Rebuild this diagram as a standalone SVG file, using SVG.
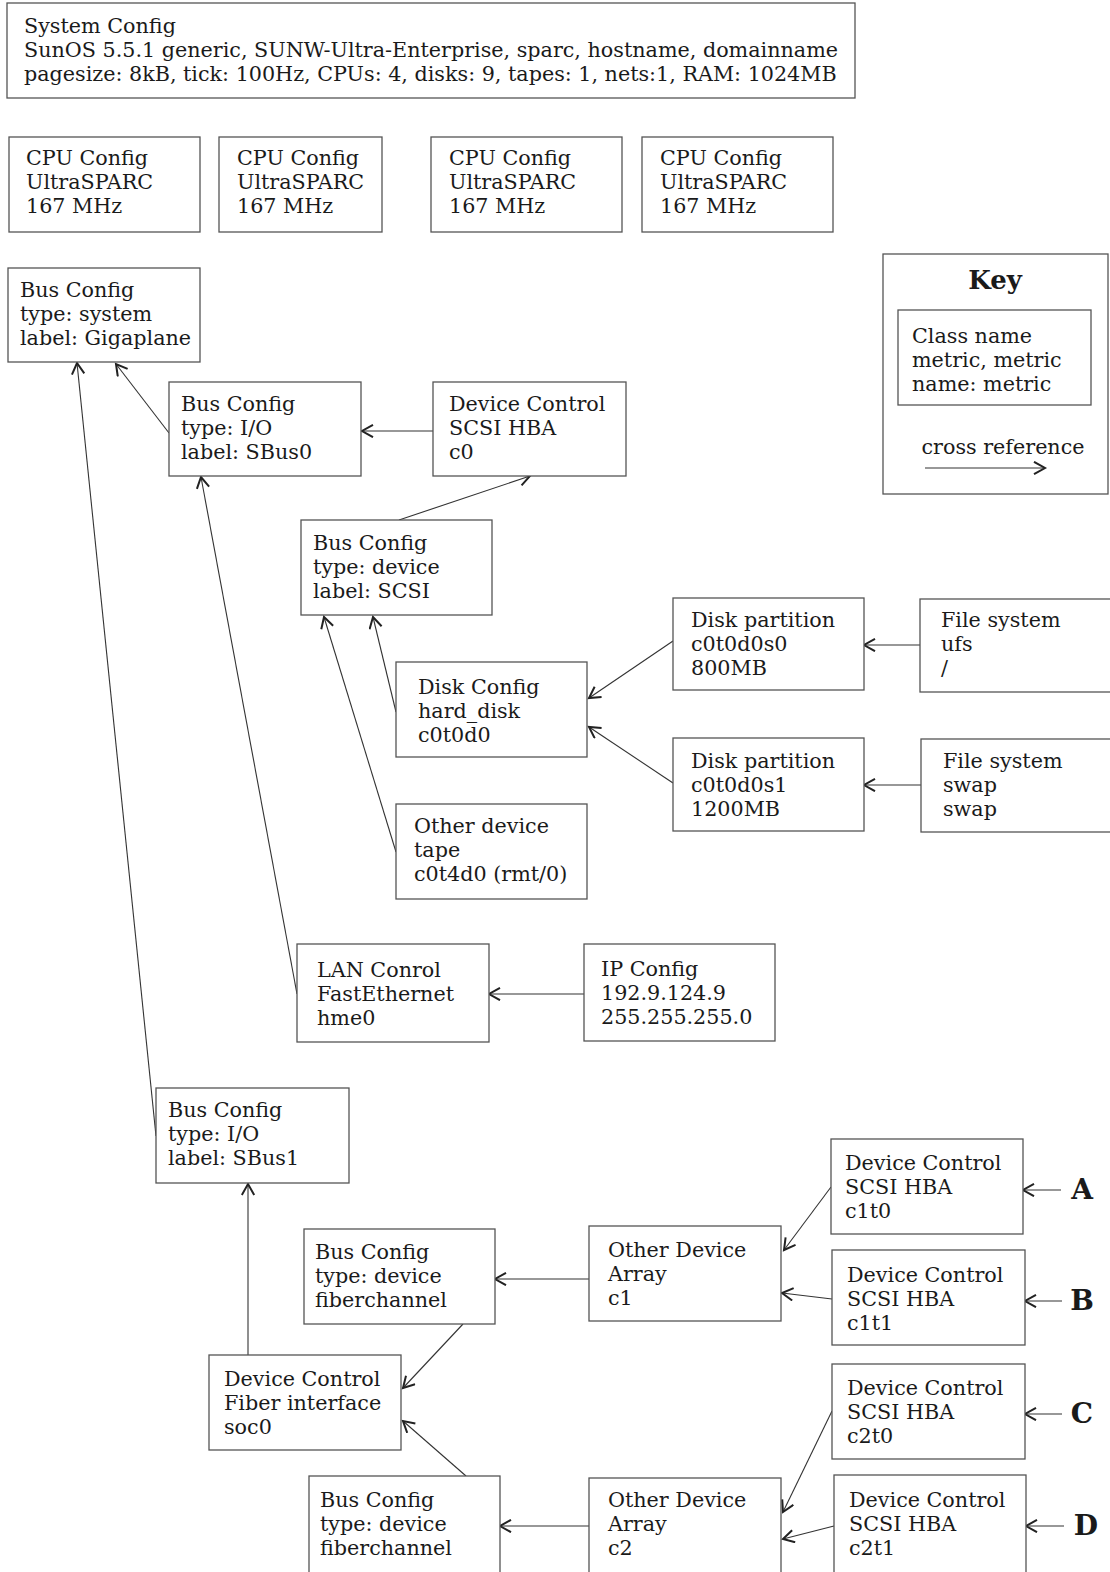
<svg xmlns="http://www.w3.org/2000/svg" width="1110" height="1572" viewBox="0 0 1110 1572">
<style>
.box{fill:#fff;stroke:#555;stroke-width:1.3}
.t{font-family:"DejaVu Serif","Liberation Serif",serif;font-size:20.7px;fill:#1a1a1a}
.b{font-family:"DejaVu Serif","Liberation Serif",serif;font-weight:bold;fill:#1a1a1a}
.c{fill:none;stroke:#333;stroke-width:1.1}
</style>
<defs>
<marker id="ah" markerUnits="userSpaceOnUse" markerWidth="16" markerHeight="16" refX="12" refY="7" orient="auto">
<path d="M1,0.8 L12,7 L1,13.2" fill="none" stroke="#222" stroke-width="2"/>
</marker>
</defs>
<rect width="1110" height="1572" fill="#fff"/>
<g id="connectors">
<line class="c" x1="169" y1="433" x2="116" y2="364" marker-end="url(#ah)"/>
<line class="c" x1="156" y1="1136" x2="77" y2="363" marker-end="url(#ah)"/>
<line class="c" x1="433" y1="431" x2="362" y2="431" marker-end="url(#ah)"/>
<line class="c" x1="399" y1="520" x2="530" y2="476" marker-end="url(#ah)"/>
<line class="c" x1="297" y1="994" x2="201" y2="477" marker-end="url(#ah)"/>
<line class="c" x1="396" y1="712" x2="373" y2="617" marker-end="url(#ah)"/>
<line class="c" x1="396" y1="852" x2="324" y2="617" marker-end="url(#ah)"/>
<line class="c" x1="673" y1="641" x2="589" y2="698" marker-end="url(#ah)"/>
<line class="c" x1="673" y1="783" x2="589" y2="727" marker-end="url(#ah)"/>
<line class="c" x1="920" y1="645" x2="864" y2="645" marker-end="url(#ah)"/>
<line class="c" x1="921" y1="785" x2="864" y2="785" marker-end="url(#ah)"/>
<line class="c" x1="584" y1="994" x2="489" y2="994" marker-end="url(#ah)"/>
<line class="c" x1="248" y1="1355" x2="248" y2="1184" marker-end="url(#ah)"/>
<line class="c" x1="589" y1="1279" x2="495" y2="1279" marker-end="url(#ah)"/>
<line class="c" x1="463" y1="1324" x2="403" y2="1388" marker-end="url(#ah)"/>
<line class="c" x1="466" y1="1476" x2="403" y2="1421" marker-end="url(#ah)"/>
<line class="c" x1="589" y1="1526" x2="500" y2="1526" marker-end="url(#ah)"/>
<line class="c" x1="831" y1="1187" x2="784" y2="1250" marker-end="url(#ah)"/>
<line class="c" x1="832" y1="1299" x2="782" y2="1293" marker-end="url(#ah)"/>
<line class="c" x1="832" y1="1411" x2="783" y2="1512" marker-end="url(#ah)"/>
<line class="c" x1="834" y1="1526" x2="783" y2="1539" marker-end="url(#ah)"/>
<line class="c" x1="1061" y1="1190" x2="1023" y2="1190" marker-end="url(#ah)"/>
<line class="c" x1="1062" y1="1301" x2="1025" y2="1301" marker-end="url(#ah)"/>
<line class="c" x1="1062" y1="1414" x2="1025" y2="1414" marker-end="url(#ah)"/>
<line class="c" x1="1064" y1="1526" x2="1026" y2="1526" marker-end="url(#ah)"/>
</g>
<g id="system-config">
<rect class="box" x="7" y="3" width="848" height="95"/>
<text class="t" x="24" y="33">System Config<tspan x="24" dy="24">SunOS 5.5.1 generic, SUNW-Ultra-Enterprise, sparc, hostname, domainname</tspan><tspan x="24" dy="24">pagesize: 8kB, tick: 100Hz, CPUs: 4, disks: 9, tapes: 1, nets:1, RAM: 1024MB</tspan></text>
</g>
<g id="cpu1"><rect class="box" x="9" y="137" width="191" height="95"/><text class="t" x="26" y="165">CPU Config<tspan x="26" dy="24">UltraSPARC</tspan><tspan x="26" dy="24">167 MHz</tspan></text></g>
<g id="cpu2"><rect class="box" x="219" y="137" width="163" height="95"/><text class="t" x="237" y="165">CPU Config<tspan x="237" dy="24">UltraSPARC</tspan><tspan x="237" dy="24">167 MHz</tspan></text></g>
<g id="cpu3"><rect class="box" x="431" y="137" width="191" height="95"/><text class="t" x="449" y="165">CPU Config<tspan x="449" dy="24">UltraSPARC</tspan><tspan x="449" dy="24">167 MHz</tspan></text></g>
<g id="cpu4"><rect class="box" x="642" y="137" width="191" height="95"/><text class="t" x="660" y="165">CPU Config<tspan x="660" dy="24">UltraSPARC</tspan><tspan x="660" dy="24">167 MHz</tspan></text></g>
<g id="bus-gigaplane"><rect class="box" x="8" y="268" width="192" height="94"/><text class="t" x="20" y="297">Bus Config<tspan x="20" dy="24">type: system</tspan><tspan x="20" dy="24">label: Gigaplane</tspan></text></g>
<g id="bus-sbus0"><rect class="box" x="169" y="382" width="192" height="94"/><text class="t" x="181" y="411">Bus Config<tspan x="181" dy="24">type: I/O</tspan><tspan x="181" dy="24">label: SBus0</tspan></text></g>
<g id="devctl-c0"><rect class="box" x="433" y="382" width="193" height="94"/><text class="t" x="449" y="411">Device Control<tspan x="449" dy="24">SCSI HBA</tspan><tspan x="449" dy="24">c0</tspan></text></g>
<g id="key">
<rect class="box" x="883" y="254" width="225" height="240"/>
<text class="b" x="995" y="289" font-size="26" text-anchor="middle">Key</text>
<rect class="box" x="898" y="310" width="193" height="95"/>
<text class="t" x="912" y="343">Class name<tspan x="912" dy="24">metric, metric</tspan><tspan x="912" dy="24">name: metric</tspan></text>
<text class="t" x="1003" y="454" text-anchor="middle">cross reference</text>
<line class="c" x1="925" y1="468" x2="1045" y2="468" marker-end="url(#ah)"/>
</g>
<g id="bus-scsi"><rect class="box" x="301" y="520" width="191" height="95"/><text class="t" x="313" y="550">Bus Config<tspan x="313" dy="24">type: device</tspan><tspan x="313" dy="24">label: SCSI</tspan></text></g>
<g id="part-s0"><rect class="box" x="673" y="598" width="191" height="92"/><text class="t" x="691" y="627">Disk partition<tspan x="691" dy="24">c0t0d0s0</tspan><tspan x="691" dy="24">800MB</tspan></text></g>
<g id="fs-ufs"><rect class="box" x="920" y="599" width="192" height="93"/><text class="t" x="941" y="627">File system<tspan x="941" dy="24">ufs</tspan><tspan x="941" dy="24">/</tspan></text></g>
<g id="disk-config"><rect class="box" x="396" y="662" width="191" height="95"/><text class="t" x="418" y="694">Disk Config<tspan x="418" dy="24">hard_disk</tspan><tspan x="418" dy="24">c0t0d0</tspan></text></g>
<g id="part-s1"><rect class="box" x="673" y="738" width="191" height="93"/><text class="t" x="691" y="768">Disk partition<tspan x="691" dy="24">c0t0d0s1</tspan><tspan x="691" dy="24">1200MB</tspan></text></g>
<g id="fs-swap"><rect class="box" x="921" y="739" width="192" height="93"/><text class="t" x="943" y="768">File system<tspan x="943" dy="24">swap</tspan><tspan x="943" dy="24">swap</tspan></text></g>
<g id="other-tape"><rect class="box" x="396" y="804" width="191" height="95"/><text class="t" x="414" y="833">Other device<tspan x="414" dy="24">tape</tspan><tspan x="414" dy="24">c0t4d0 (rmt/0)</tspan></text></g>
<g id="lan"><rect class="box" x="297" y="944" width="192" height="98"/><text class="t" x="317" y="977">LAN Conrol<tspan x="317" dy="24">FastEthernet</tspan><tspan x="317" dy="24">hme0</tspan></text></g>
<g id="ip"><rect class="box" x="584" y="944" width="191" height="97"/><text class="t" x="601" y="976">IP Config<tspan x="601" dy="24">192.9.124.9</tspan><tspan x="601" dy="24">255.255.255.0</tspan></text></g>
<g id="bus-sbus1"><rect class="box" x="156" y="1088" width="193" height="95"/><text class="t" x="168" y="1117">Bus Config<tspan x="168" dy="24">type: I/O</tspan><tspan x="168" dy="24">label: SBus1</tspan></text></g>
<g id="devctl-c1t0"><rect class="box" x="831" y="1139" width="192" height="95"/><text class="t" x="845" y="1170">Device Control<tspan x="845" dy="24">SCSI HBA</tspan><tspan x="845" dy="24">c1t0</tspan></text><text class="b" x="1082" y="1199" font-size="28" text-anchor="middle">A</text></g>
<g id="array-c1"><rect class="box" x="589" y="1226" width="192" height="95"/><text class="t" x="608" y="1257">Other Device<tspan x="608" dy="24">Array</tspan><tspan x="608" dy="24">c1</tspan></text></g>
<g id="bus-fiber1"><rect class="box" x="304" y="1229" width="191" height="95"/><text class="t" x="315" y="1259">Bus Config<tspan x="315" dy="24">type: device</tspan><tspan x="315" dy="24">fiberchannel</tspan></text></g>
<g id="devctl-c1t1"><rect class="box" x="832" y="1250" width="193" height="95"/><text class="t" x="847" y="1282">Device Control<tspan x="847" dy="24">SCSI HBA</tspan><tspan x="847" dy="24">c1t1</tspan></text><text class="b" x="1082" y="1310" font-size="28" text-anchor="middle">B</text></g>
<g id="devctl-soc0"><rect class="box" x="209" y="1355" width="192" height="95"/><text class="t" x="224" y="1386">Device Control<tspan x="224" dy="24">Fiber interface</tspan><tspan x="224" dy="24">soc0</tspan></text></g>
<g id="devctl-c2t0"><rect class="box" x="832" y="1364" width="193" height="95"/><text class="t" x="847" y="1395">Device Control<tspan x="847" dy="24">SCSI HBA</tspan><tspan x="847" dy="24">c2t0</tspan></text><text class="b" x="1082" y="1423" font-size="28" text-anchor="middle">C</text></g>
<g id="bus-fiber2"><rect class="box" x="309" y="1476" width="191" height="100"/><text class="t" x="320" y="1507">Bus Config<tspan x="320" dy="24">type: device</tspan><tspan x="320" dy="24">fiberchannel</tspan></text></g>
<g id="array-c2"><rect class="box" x="589" y="1478" width="192" height="100"/><text class="t" x="608" y="1507">Other Device<tspan x="608" dy="24">Array</tspan><tspan x="608" dy="24">c2</tspan></text></g>
<g id="devctl-c2t1"><rect class="box" x="834" y="1475" width="192" height="100"/><text class="t" x="849" y="1507">Device Control<tspan x="849" dy="24">SCSI HBA</tspan><tspan x="849" dy="24">c2t1</tspan></text><text class="b" x="1086" y="1535" font-size="28" text-anchor="middle">D</text></g>
</svg>
